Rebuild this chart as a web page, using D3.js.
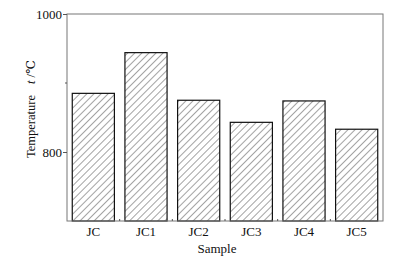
<!DOCTYPE html>
<html lang="en">
<head>
<meta charset="UTF-8">
<script src="https://d3js.org/d3.v7.min.js"></script>
<style>
  body { margin: 0; background: #fff; }
  svg text { font-family: "Liberation Serif", "Times New Roman", "DejaVu Serif", serif !important; fill: #111; }
</style>
</head>
<body>
<svg id="chart" width="399" height="262" font-family="Liberation Serif, serif"></svg>
<script>
const samples = ["JC", "JC1", "JC2", "JC3", "JC4", "JC5"];
const temps = [885, 944, 875, 843, 874, 833];
const yTicks = [800, 1000];
const yMinor = [900];

const svg = d3.select("#chart");
const margin = {top: 14, right: 16, bottom: 41, left: 67};
const W = 399 - margin.left - margin.right;
const H = 262 - margin.top - margin.bottom;

// hatch pattern
const defs = svg.append("defs");
defs.append("pattern")
  .attr("id", "hatch")
  .attr("patternUnits", "userSpaceOnUse")
  .attr("width", 5).attr("height", 5)
  .attr("patternTransform", "rotate(45)")
  .append("line")
  .attr("x1", 0).attr("y1", 0).attr("x2", 0).attr("y2", 5)
  .attr("stroke", "#333").attr("stroke-width", 0.9);

const g = svg.append("g").attr("transform", `translate(${margin.left},${margin.top})`);

const x = d3.scaleBand().domain(samples).range([0, W]).paddingInner(0.2).paddingOuter(0.1);
const y = d3.scaleLinear().domain([700, 1000]).range([H, 0]);

// bars
g.selectAll("rect.bar")
  .data(samples)
  .join("rect")
  .attr("class", "bar")
  .attr("x", d => x(d))
  .attr("y", (d, i) => y(temps[i]))
  .attr("width", x.bandwidth())
  .attr("height", (d, i) => H - y(temps[i]))
  .attr("fill", "url(#hatch)")
  .attr("stroke", "#111")
  .attr("stroke-width", 1.2);

// frame
g.append("rect")
  .attr("x", 0).attr("y", 0).attr("width", W).attr("height", H)
  .attr("fill", "none").attr("stroke", "#777").attr("stroke-width", 1);

// y axis
const yAxis = g.append("g")
  .call(d3.axisLeft(y).tickValues(yTicks).tickFormat(d3.format("d")).tickSize(4).tickSizeOuter(0));
yAxis.attr("font-family", null);
yAxis.select(".domain").remove();
yAxis.selectAll("line").attr("stroke", "#555");
yAxis.selectAll("text").attr("font-size", 13).attr("x", -5).attr("fill", "#111");

g.selectAll("line.ymin")
  .data(yMinor)
  .join("line")
  .attr("class", "ymin")
  .attr("x1", -2).attr("x2", 0)
  .attr("y1", d => y(d)).attr("y2", d => y(d))
  .attr("stroke", "#555");

// x axis labels
const xAxis = g.append("g").attr("transform", `translate(0,${H})`)
  .call(d3.axisBottom(x).tickSize(0).tickPadding(6));
xAxis.attr("font-family", null);
xAxis.select(".domain").remove();
xAxis.selectAll("text").attr("font-size", 13).attr("fill", "#111");

// small ticks between bars
const step = x.step();
g.selectAll("line.xmin")
  .data(samples.slice(1))
  .join("line")
  .attr("class", "xmin")
  .attr("x1", d => x(d) - step * x.paddingInner() / 2)
  .attr("x2", d => x(d) - step * x.paddingInner() / 2)
  .attr("y1", H).attr("y2", H - 2)
  .attr("stroke", "#555");

// axis titles
svg.append("text")
  .attr("x", 217).attr("y", 253)
  .attr("text-anchor", "middle").attr("font-size", 13)
  .text("Sample");

const yt = svg.append("text")
  .attr("transform", `translate(35,158) rotate(-90)`)
  .attr("text-anchor", "start").attr("font-size", 12.5);
yt.append("tspan").text("Temperature");
yt.append("tspan").attr("dx", 11).attr("font-style", "italic").text("t");
yt.append("tspan").text(" /℃");
</script>
</body>
</html>
